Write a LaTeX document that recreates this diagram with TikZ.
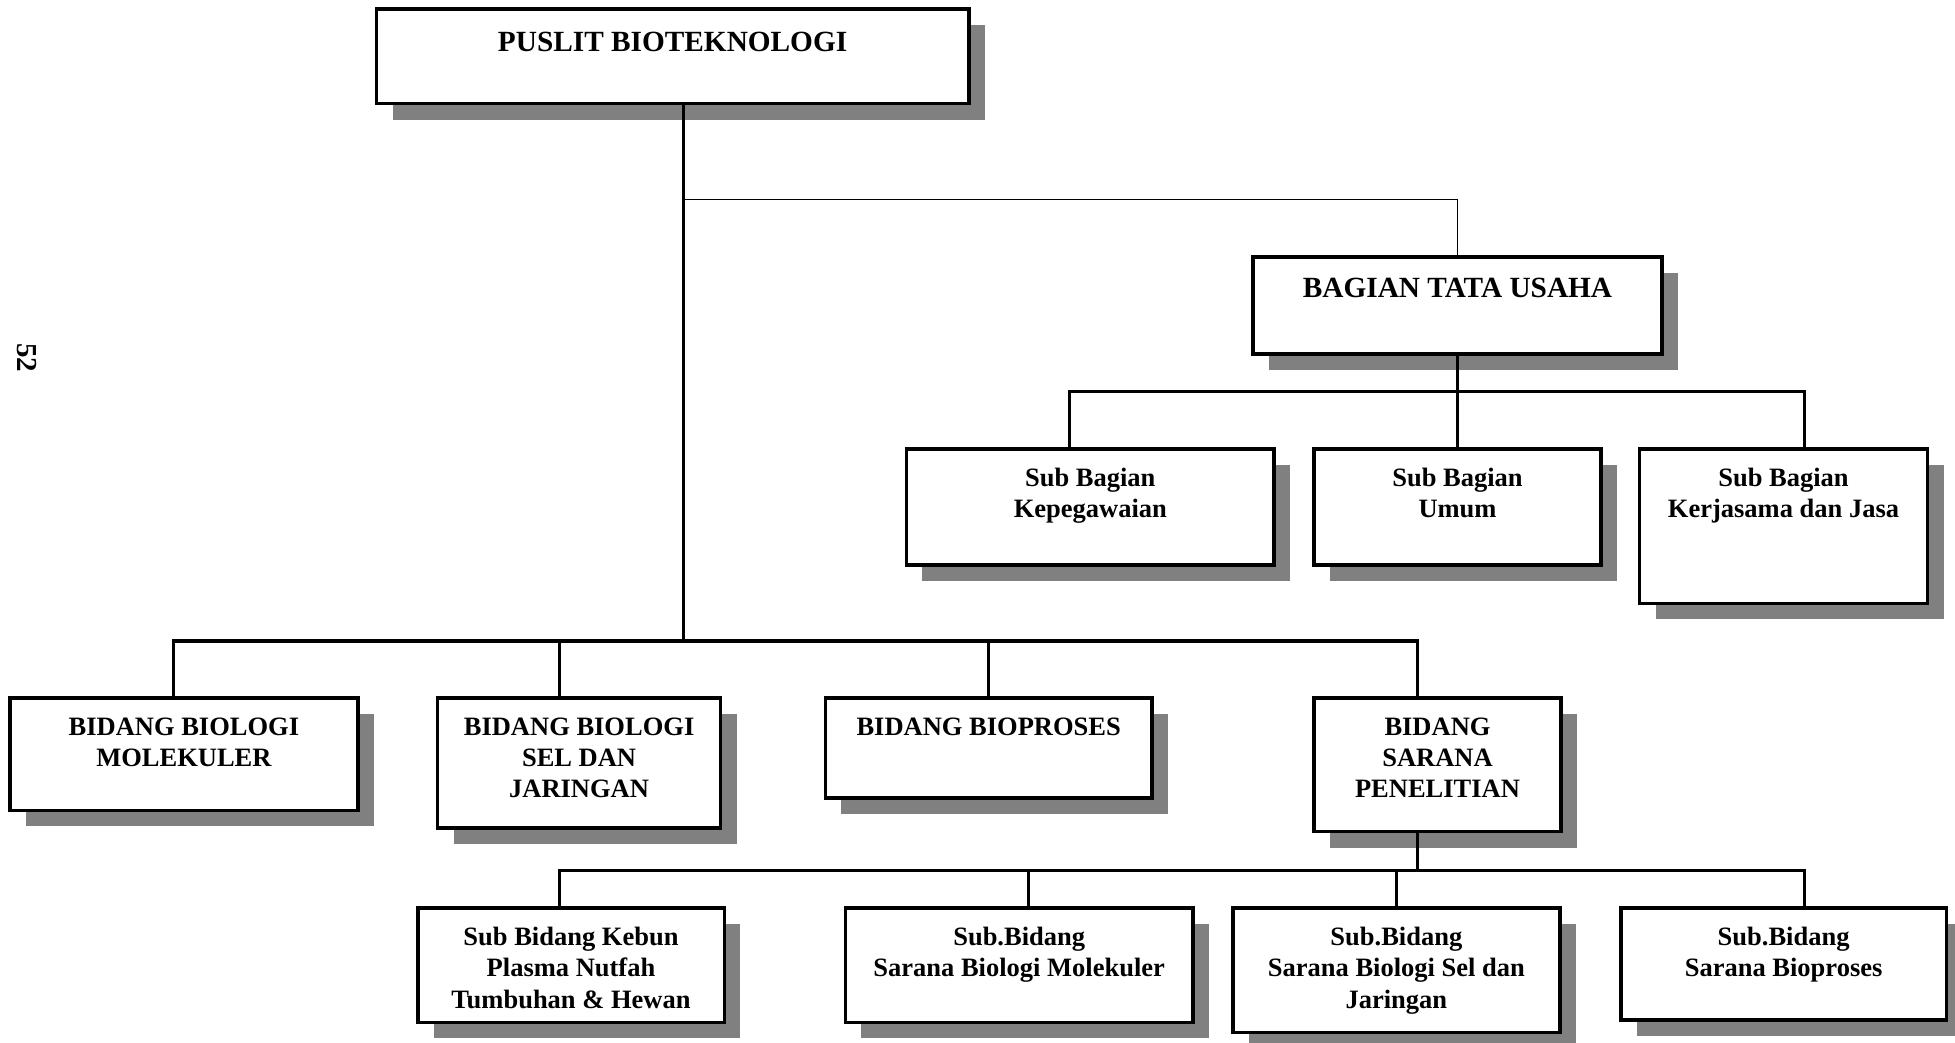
\documentclass[tikz,border=0pt]{standalone}
\usepackage{fontspec}
\setmainfont{Liberation Serif}
\usetikzlibrary{shadows}
\definecolor{shadowc}{RGB}{128,128,128}
\tikzset{
  orgbox/.style={draw=black, line width=3.6pt, fill=white, inner sep=0pt, outer sep=0pt,
    anchor=north west,
    drop shadow={shadow xshift=16pt, shadow yshift=-16pt, fill=shadowc, opacity=1}},
  bigtxt/.style={font=\fontsize{29.3}{34}\selectfont\bfseries, inner sep=0pt, anchor=north, align=center},
  txt/.style={font=\fontsize{26.5}{31.2}\selectfont\bfseries, inner sep=0pt, anchor=north, align=center},
  conn/.style={line width=3.2pt, line join=miter},
  thinconn/.style={line width=1.8pt, line join=miter},
}
\begin{document}
\begin{tikzpicture}[x=1pt,y=1pt]
\path[use as bounding box] (0,0) rectangle (1955,-1042);

% page number
\node[font=\fontsize{29}{34}\selectfont, rotate=-90, inner sep=0pt] (pg) at (27.4,-357.8) {\textbf{52}};

% top
\node[orgbox, minimum width=592.3pt, minimum height=94.8pt] (top) at (376.5,-8.7) {};
\node[bigtxt] (topt) at (672.6,-32.2) {PUSLIT BIOTEKNOLOGI};

% bagian tata usaha
\node[orgbox, minimum width=409pt, minimum height=97.3pt] (btu) at (1253,-256.8) {};
\node[bigtxt] (btut) at (1457.5,-277.8) {BAGIAN TATA USAHA};

\node[orgbox, minimum width=367.8pt, minimum height=116pt] (kep) at (906.4,-448.8) {};
\node[txt] (kept) at (1090.3,-468.2) {Sub Bagian\\Kepegawaian};
\node[orgbox, minimum width=286.8pt, minimum height=116pt] (umum) at (1314.1,-448.8) {};
\node[txt] (umumt) at (1457.5,-468.2) {Sub Bagian\\Umum};
\node[orgbox, minimum width=288pt, minimum height=154.6pt] (kj) at (1639.5,-448.8) {};
\node[txt] (kjt) at (1783.5,-468.2) {Sub Bagian\\Kerjasama dan Jasa};

% bidang
\node[orgbox, minimum width=347.8pt, minimum height=112.2pt] (bm) at (10,-698.2) {};
\node[txt] (bmt) at (183.9,-717.6) {BIDANG BIOLOGI\\MOLEKULER};
\node[orgbox, minimum width=283pt, minimum height=129.7pt] (bs) at (437.6,-698.2) {};
\node[txt] (bst) at (579.1,-717.6) {BIDANG BIOLOGI\\SEL DAN\\JARINGAN};
\node[orgbox, minimum width=326.6pt, minimum height=99.7pt] (bp) at (825.4,-698.2) {};
\node[txt] (bpt) at (988.7,-717.6) {BIDANG BIOPROSES};
\node[orgbox, minimum width=246.9pt, minimum height=133.4pt] (sp) at (1314.1,-698.2) {};
\node[txt] (spt) at (1437.5,-717.6) {BIDANG\\SARANA\\PENELITIAN};

% sub bidang
\node[orgbox, minimum width=306.7pt, minimum height=114.7pt] (s1) at (417.7,-907.7) {};
\node[txt] (s1t) at (571,-927.1) {Sub Bidang Kebun\\Plasma Nutfah\\Tumbuhan \& Hewan};
\node[orgbox, minimum width=347.9pt, minimum height=114.7pt] (s2) at (845.3,-907.7) {};
\node[txt] (s2t) at (1019.2,-927.1) {Sub.Bidang\\Sarana Biologi Molekuler};
\node[orgbox, minimum width=326.6pt, minimum height=124.7pt] (s3) at (1233.1,-907.7) {};
\node[txt] (s3t) at (1396.4,-927.1) {Sub.Bidang\\Sarana Biologi Sel dan\\Jaringan};
\node[orgbox, minimum width=325.5pt, minimum height=112.2pt] (s4) at (1620.8,-907.7) {};
\node[txt] (s4t) at (1783.6,-927.1) {Sub.Bidang\\Sarana Bioproses};

% junction coordinates
\coordinate (tu) at (683.2,-199.5);
\coordinate (tb) at (683.2,-640.9);
\coordinate (bL) at (1069.7,-391.5);
\coordinate (bR) at (1804.1,-391.5);
\coordinate (mL) at (173.3,-640.9);
\coordinate (mR) at (1417.6,-640.9);
\coordinate (mS) at (559.8,-640.9);
\coordinate (mP) at (988.7,-640.9);
\coordinate (lL) at (559.8,-870.3);
\coordinate (lR) at (1804.1,-870.3);
\coordinate (l2) at (1028.6,-870.3);
\coordinate (l3) at (1396.4,-870.3);

% connectors
\draw[conn] (top.south -| tb) -- (tb);
\draw[thinconn] (tu) -| (btu.north);
\draw[conn] (btu.south) -- (btu.south |- bL);
\draw[conn] (kep.north -| bL) -- (bL) -- (bR) -- (kj.north -| bR);
\draw[conn] (umum.north |- bL) -- (umum.north);

\draw[conn] (bm.north -| mL) -- (mL) -- (mR) -- (sp.north -| mR);
\draw[conn] (mS) -- (bs.north -| mS);
\draw[conn] (mP) -- (bp.north -| mP);

\draw[conn] (sp.south -| mR) -- (mR |- lL);
\draw[conn] (s1.north -| lL) -- (lL) -- (lR) -- (s4.north -| lR);
\draw[conn] (l2) -- (s2.north -| l2);
\draw[conn] (l3) -- (s3.north -| l3);
\end{tikzpicture}
\end{document}
